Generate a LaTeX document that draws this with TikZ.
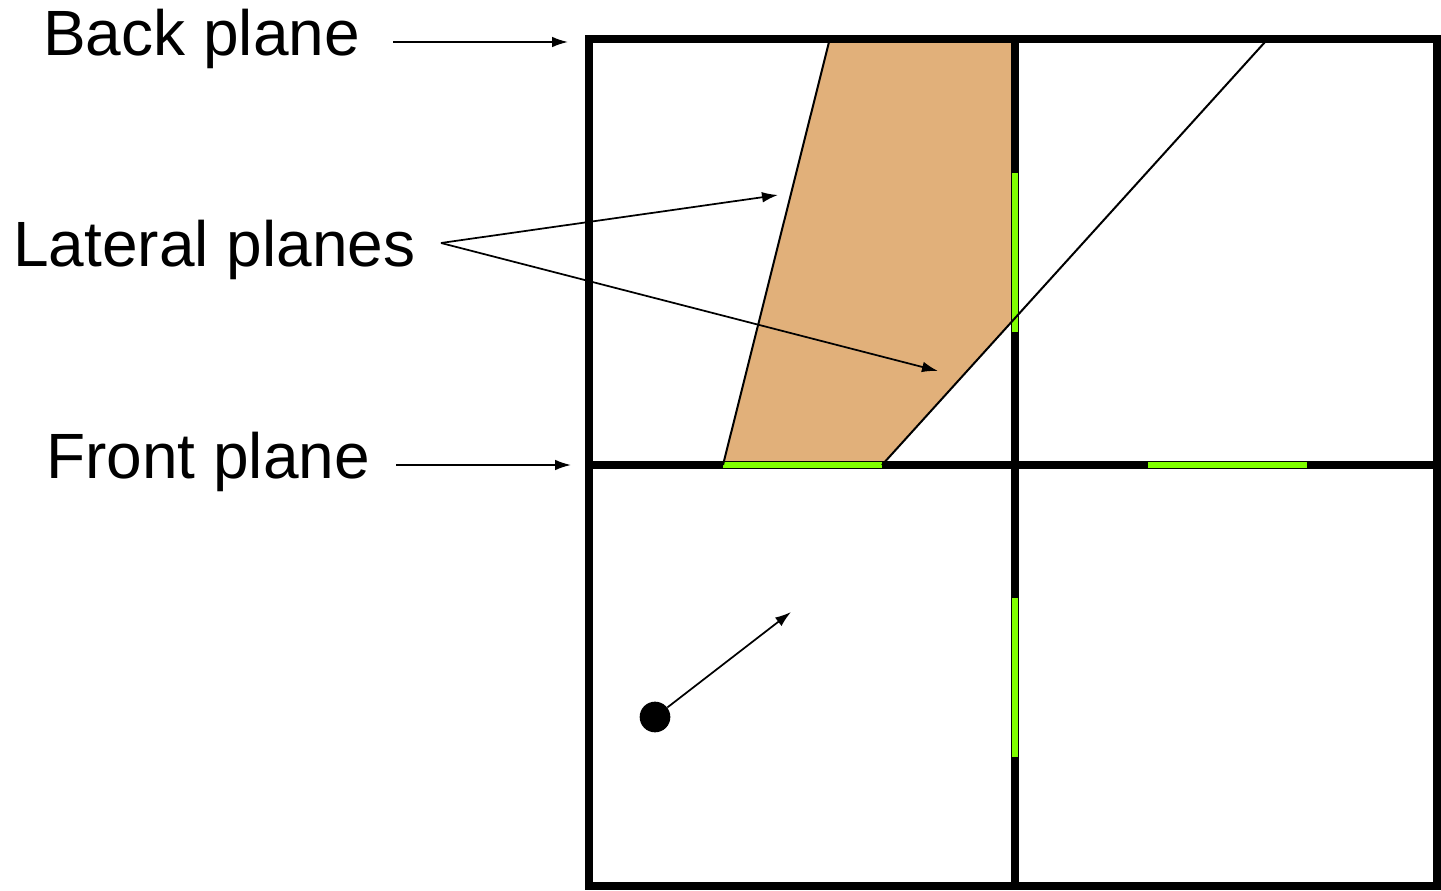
\documentclass[tikz,border=0pt]{standalone}
\usepackage{fontspec}
\setmainfont{Liberation Sans}
\usetikzlibrary{arrows.meta}
\definecolor{planeorange}{RGB}{225,176,122}
\definecolor{portalgreen}{RGB}{128,255,0}
\tikzset{
  lbl/.style={anchor=base west, inner sep=0pt, font=\fontsize{48}{52}\selectfont},
  gridline/.style={line width=5.6pt, black},
  portal/.style={line width=4.6pt, portalgreen},
  thinline/.style={line width=1.5pt, black},
  pointer/.style={line width=1.3pt, black, -{Latex[length=12pt,width=8pt]}}
}
\begin{document}
\begin{tikzpicture}[x=0.75pt,y=-0.75pt]
\useasboundingbox (0,0) rectangle (1441,891);
% labels
\node[lbl] (back) at (43,56) {Back plane};
\node[lbl] (lat) at (13,267) {Lateral planes};
\node[lbl] (front) at (46,478) {Front plane};
% orange region
\fill[planeorange] (723,465) -- (829,39) -- (1015,39) -- (1015,318) -- (882,465) -- cycle;
% grid
\draw[gridline] (589,39) rectangle (1437,886);
\draw[gridline] (1015,39) -- (1015,886);
\draw[gridline] (589,465) -- (1437,465);
% green portals
\draw[portal] (723,465) -- (882,465);
\draw[portal] (1148,465) -- (1307,465);
\draw[portal] (1015,173) -- (1015,332);
\draw[portal] (1015,598) -- (1015,757);
% thin lines
\coordinate (l1) at (723,465);
\coordinate (l2) at (829,42);
\coordinate (d1) at (882,465);
\coordinate (d2) at (1265,42);
\draw[thinline] (l1) -- (l2);
\draw[thinline] (d1) -- (d2);
% pointers
\coordinate (bs) at (393,42);
\coordinate (be) at (568,42);
\coordinate (fs) at (396,465);
\coordinate (fe) at (571,465);
\coordinate (ls) at (441,243);
\coordinate (le1) at (778,195);
\coordinate (le2) at (938,371);
\draw[pointer] (bs) -- (be);
\draw[pointer] (fs) -- (fe);
\draw[pointer] (ls) -- (le1);
\draw[pointer] (ls) -- (le2);
% viewer
\node[circle, fill=black, minimum size=23pt, inner sep=0pt] (eye) at (655,717) {};
\coordinate (look) at (791,612);
\draw[pointer] (eye) -- (look);
\end{tikzpicture}
\end{document}
